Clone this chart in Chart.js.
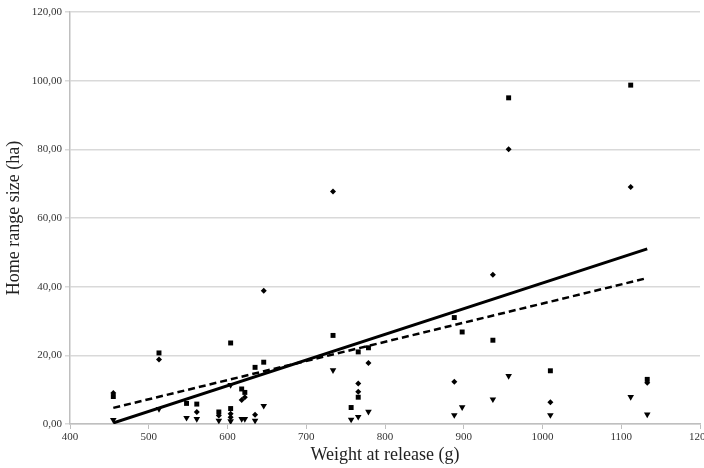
<!DOCTYPE html>
<html>
<head>
<meta charset="utf-8">
<script src="https://cdn.jsdelivr.net/npm/chart.js@4/dist/chart.umd.min.js"></script>
<style>
html,body{margin:0;padding:0;background:#fff;}
#wrap{width:704px;height:468px;}
</style>
</head>
<body>
<div id="wrap"><canvas id="c" width="704" height="468"></canvas></div>
<script>
// Series
const squareX = [455, 513, 548, 561, 589, 604, 604, 618, 622, 635, 646, 734, 757, 766, 766, 779, 888, 898, 937, 957, 1010, 1112, 1133];
const squareY = [8.0, 20.7, 6.0, 5.8, 3.5, 23.6, 4.5, 10.2, 9.2, 16.5, 18.0, 25.8, 4.8, 21.0, 7.8, 22.2, 31.0, 26.8, 24.4, 95.0, 15.5, 98.7, 13.0];

const diamondX = [455, 513, 561, 589, 604, 604, 618, 622, 635, 646, 734, 766, 766, 779, 888, 937, 957, 1010, 1112, 1133];
const diamondY = [9.0, 18.8, 3.5, 2.5, 3.0, 2.0, 7.0, 7.8, 2.7, 38.8, 67.7, 11.8, 9.4, 17.8, 12.3, 43.5, 80.0, 6.3, 69.0, 12.0];

const triangleX = [455, 513, 548, 561, 589, 604, 604, 618, 622, 635, 646, 734, 757, 766, 779, 888, 898, 937, 957, 1010, 1112, 1133];
const triangleY = [1.2, 4.4, 1.8, 1.5, 1.0, 11.4, 0.8, 1.5, 1.5, 1.0, 5.3, 15.7, 1.3, 2.1, 3.6, 2.6, 4.9, 7.2, 14.0, 2.6, 7.9, 2.8];

const trendSolidX = [455, 1133];
const trendSolidY = [0.3, 51.0];
const trendDashX = [455, 1133];
const trendDashY = [4.7, 42.5];

const xTicks = [400, 500, 600, 700, 800, 900, 1000, 1100, 1200];
const yTicks = [0, 20, 40, 60, 80, 100, 120];

const pts = (xs, ys) => xs.map((x, i) => ({x: x, y: ys[i]}));

const serif = "'Liberation Serif', 'Times New Roman', serif";

new Chart(document.getElementById('c'), {
  type: 'scatter',
  data: {
    datasets: [
      {label: 'trend1', type: 'line', data: pts(trendSolidX, trendSolidY), borderColor: '#000', borderWidth: 3, pointRadius: 0, fill: false},
      {label: 'trend2', type: 'line', data: pts(trendDashX, trendDashY), borderColor: '#000', borderWidth: 2.5, borderDash: [7, 4], pointRadius: 0, fill: false},
      {label: 'squares', data: pts(squareX, squareY), pointStyle: 'rect', pointRadius: 3.5, backgroundColor: '#000', borderColor: '#000', borderWidth: 0},
      {label: 'diamonds', data: pts(diamondX, diamondY), pointStyle: 'rectRot', pointRadius: 3, backgroundColor: '#000', borderColor: '#000', borderWidth: 0},
      {label: 'triangles', data: pts(triangleX, triangleY), pointStyle: 'triangle', rotation: 180, pointRadius: 3.8, backgroundColor: '#000', borderColor: '#000', borderWidth: 0}
    ]
  },
  options: {
    responsive: false,
    animation: false,
    layout: {padding: {left: 0, right: 4, top: 12, bottom: 0}},
    plugins: {legend: {display: false}, tooltip: {enabled: false}},
    scales: {
      x: {
        type: 'linear', min: 400, max: 1200,
        afterBuildTicks: s => { s.ticks = xTicks.map(v => ({value: v})); },
        afterFit: s => { s.height = 44; s.paddingLeft = 0; s.paddingRight = 0; },
        grid: {drawOnChartArea: false, drawTicks: true, tickLength: 5, color: '#bfbfbf'},
        border: {color: '#bfbfbf', width: 1.5},
        ticks: {font: {family: serif, size: 11}, color: '#333', padding: 2, maxRotation: 0,
          callback: v => String(v)},
        title: {display: true, text: 'Weight at release (g)', font: {family: serif, size: 18}, color: '#222', padding: {top: 0, bottom: 2}}
      },
      y: {
        type: 'linear', min: 0, max: 120,
        afterBuildTicks: s => { s.ticks = yTicks.map(v => ({value: v})); },
        afterFit: s => { s.width = 70; s.paddingTop = 0; s.paddingBottom = 0; },
        grid: {color: '#d9d9d9', lineWidth: 1.5, drawTicks: true, tickLength: 5},
        border: {color: '#bfbfbf', width: 1.5},
        ticks: {font: {family: serif, size: 11}, color: '#333', padding: 3,
          callback: v => v.toFixed(2).replace('.', ',')},
        title: {display: true, text: 'Home range size (ha)', font: {family: serif, size: 18}, color: '#222', padding: {top: 3, bottom: 4}}
      }
    }
  }
});
</script>
</body>
</html>
